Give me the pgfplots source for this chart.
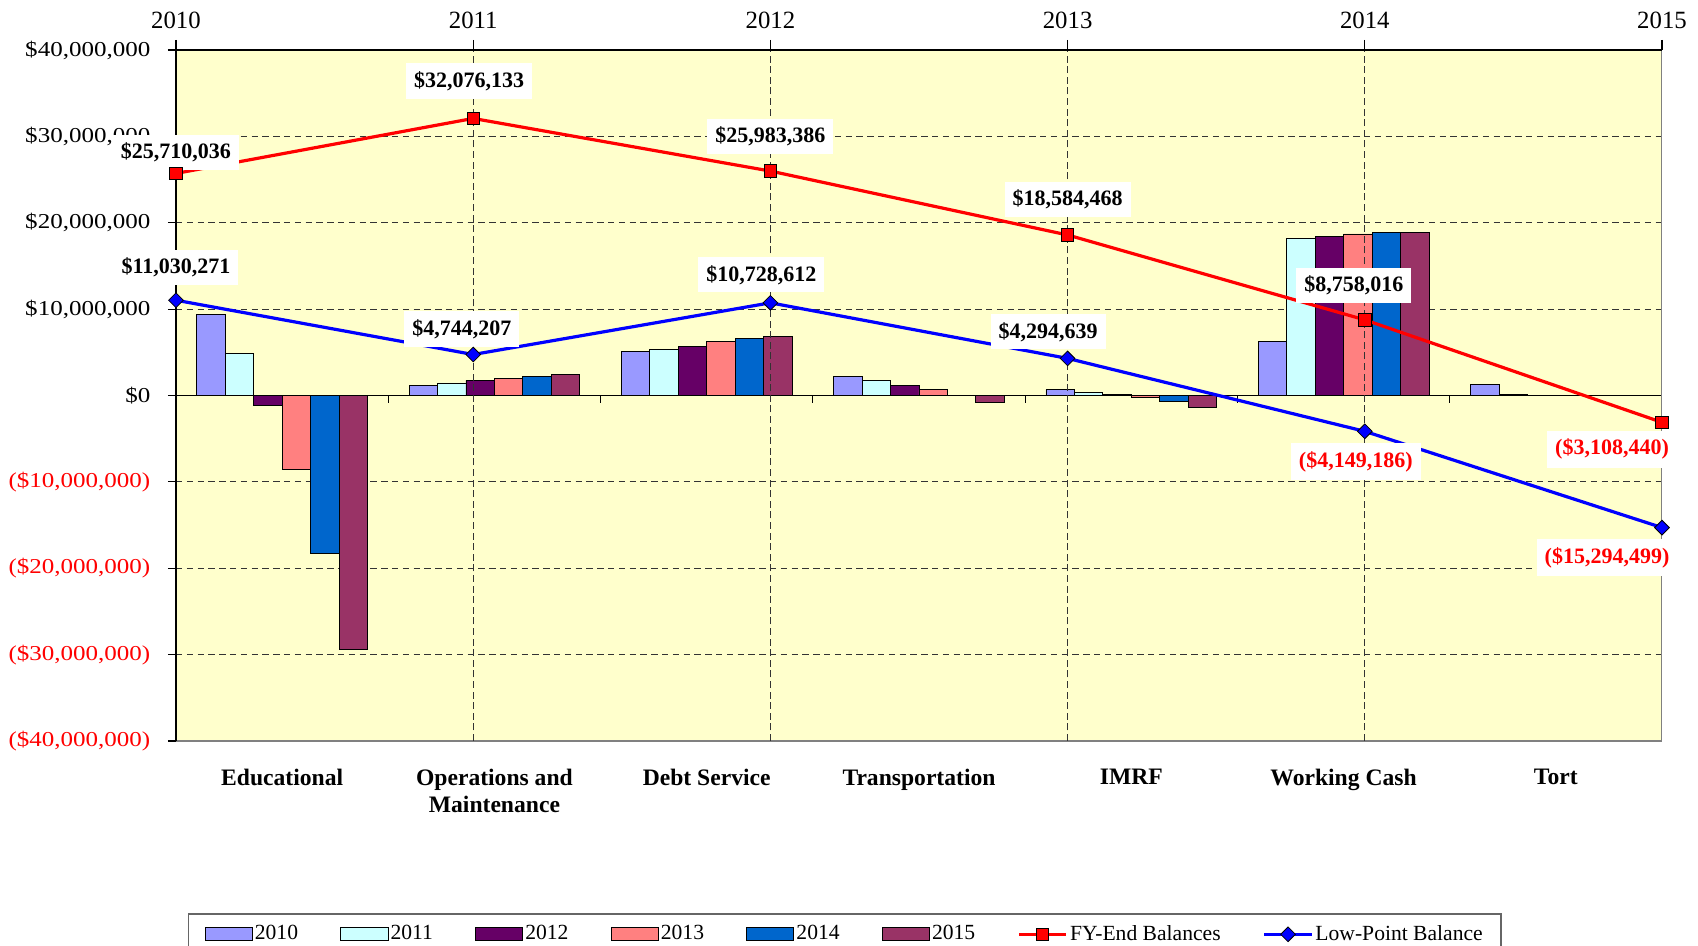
\documentclass[border=0pt]{standalone}
\usepackage{pgfplots}
\pgfplotsset{compat=1.18}
\usepackage{fontspec}
\setmainfont{Liberation Serif}
\newfontfamily\tickfont{Liberation Serif}[FakeStretch=1.18]
\definecolor{bgyellow}{HTML}{FFFFCC}
\definecolor{cA}{HTML}{9999FF}
\definecolor{cB}{HTML}{CCFFFF}
\definecolor{cC}{HTML}{660066}
\definecolor{cD}{HTML}{FF8080}
\definecolor{cE}{HTML}{0066CC}
\definecolor{cF}{HTML}{993366}
\definecolor{gridc}{HTML}{333333}
\begin{document}
\begin{tikzpicture}
\useasboundingbox (-88pt,-102.5pt) rectangle (761pt,370.5pt);
\tikzset{lbl/.style={fill=white, inner xsep=4pt, inner ysep=4pt, font=\bfseries\fontsize{11}{13}\selectfont}}
% ---------- axis 1: bars, categories, y axis ----------
\begin{axis}[
  scale only axis, width=743pt, height=345.5pt,
  at={(0,0)}, anchor=south west,
  xmin=-0.5, xmax=6.5, ymin=-40000000, ymax=40000000,
  axis background/.style={fill=bgyellow},
  axis x line*=bottom, axis y line*=left,
  x axis line style={draw=gray, line width=0.6pt},
  y axis line style={draw=black, line width=0.6pt},
  ybar=0pt, bar width=0.134,
  xtick={0,1,2,3,4,5,6},
  xticklabels={Educational,{Operations and\\Maintenance},Debt Service,Transportation,IMRF,Working Cash,Tort},
  xtick style={draw=none},
  xticklabel style={font=\bfseries\fontsize{11.8}{13.7}\selectfont, align=center, anchor=north, yshift=-6.4pt},
  ytick={-40000000,-30000000,-20000000,-10000000,0,10000000,20000000,30000000,40000000},
  yticklabels={{\color{red}(\$40,000,000)},{\color{red}(\$30,000,000)},{\color{red}(\$20,000,000)},{\color{red}(\$10,000,000)},{\$0},{\$10,000,000},{\$20,000,000},{\$30,000,000},{\$40,000,000}},
  yticklabel style={font=\tickfont\fontsize{10.6}{12}\selectfont, anchor=east, xshift=-5.3pt},
  ytick pos=left, tick align=outside, major tick length=4pt,
  ytick style={black, line width=0.6pt},
  ymajorgrids, grid style={draw=gridc, line width=0.6pt, dash pattern=on 3.2pt off 2.2pt},
  scaled y ticks=false,
]
\addplot[fill=cA, draw=black, line width=0.4pt] coordinates {(0,9380000) (1,1190000) (2,5100000) (3,2170000) (4,690000) (5,6260000) (6,1300000)};
\addplot[fill=cB, draw=black, line width=0.4pt] coordinates {(0,4850000) (1,1450000) (2,5350000) (3,1720000) (4,390000) (5,18160000) (6,100000)};
\addplot[fill=cC, draw=black, line width=0.4pt] coordinates {(0,-1180000) (1,1760000) (2,5680000) (3,1140000) (4,100000) (5,18420000) (6,0)};
\addplot[fill=cD, draw=black, line width=0.4pt] coordinates {(0,-8600000) (1,1990000) (2,6260000) (3,650000) (4,-180000) (5,18700000) (6,0)};
\addplot[fill=cE, draw=black, line width=0.4pt] coordinates {(0,-18250000) (1,2220000) (2,6600000) (3,0) (4,-640000) (5,18840000) (6,0)};
\addplot[fill=cF, draw=black, line width=0.4pt] coordinates {(0,-29400000) (1,2480000) (2,6860000) (3,-760000) (4,-1330000) (5,18840000) (6,0)};
\draw[black, line width=0.6pt] (axis cs:-0.5,0) -- (axis cs:6.5,0);
\pgfplotsinvokeforeach{0.5,1.5,2.5,3.5,4.5,5.5}{\draw[black, line width=0.6pt] (axis cs:#1,0) -- ++(0pt,-4pt);}
\draw[gray, line width=0.6pt] (rel axis cs:1,0) -- (rel axis cs:1,1);
\end{axis}
% ---------- axis 2: years on top, lines ----------
\begin{axis}[
  scale only axis, width=743pt, height=345.5pt,
  at={(0,0)}, anchor=south west,
  xmin=2010, xmax=2015, ymin=-40000000, ymax=40000000,
  axis x line*=top, axis y line=none,
  x axis line style={draw=black, line width=0.6pt},
  xtick={2011,2012,2013,2014}, xticklabels={2011,2012,2013,2014},
  extra x ticks={2010,2015}, extra x tick labels={2010,2015},
  extra x tick style={grid=none},
  xticklabel style={font=\fontsize{12.4}{14}\selectfont, anchor=south, yshift=2pt},
  tick align=outside, major tick length=5pt,
  tick style={black, line width=0.6pt},
  xmajorgrids, grid style={draw=gridc, line width=0.6pt, dash pattern=on 3.5pt off 1.8pt},
  clip=false,
  legend columns=8,
  legend style={at={(0,0)}, anchor=north west, xshift=6pt, yshift=-86.2pt,
    draw=gray!80!black, line width=0.7pt, fill=white,
    font=\fontsize{10.8}{12}\selectfont,
    inner xsep=8pt, inner ysep=4.5pt,
    nodes={inner sep=1.1pt},
    /tikz/every even column/.append style={column sep=20pt}},
]
\pgfplotsset{barleg/.style={legend image code/.code={\draw[##1, line width=0.4pt] (0pt,-3.2pt) rectangle (23.6pt,3.2pt);}},
  lineleg/.style={legend image code/.code={\draw[mark repeat=2, mark phase=2, ##1] plot coordinates {(0pt,0pt) (11.8pt,0pt) (23.6pt,0pt)};}}}
\addlegendimage{barleg, fill=cA, draw=black}\addlegendentry{2010}
\addlegendimage{barleg, fill=cB, draw=black}\addlegendentry{2011}
\addlegendimage{barleg, fill=cC, draw=black}\addlegendentry{2012}
\addlegendimage{barleg, fill=cD, draw=black}\addlegendentry{2013}
\addlegendimage{barleg, fill=cE, draw=black}\addlegendentry{2014}
\addlegendimage{barleg, fill=cF, draw=black}\addlegendentry{2015}
\addplot[red, line width=1.6pt, mark=square*, mark size=3.1pt, mark options={fill=red, draw=black, line width=0.4pt}, lineleg]
  coordinates {(2010,25710036) (2011,32076133) (2012,25983386) (2013,18584468) (2014,8758016) (2015,-3108440)};
\addlegendentry{FY-End Balances}
\addplot[blue, line width=1.6pt, mark=square*, mark size=2.6pt, mark options={rotate=45, fill=blue, draw=black, line width=0.4pt}, lineleg]
  coordinates {(2010,11030271) (2011,4744207) (2012,10728612) (2013,4294639) (2014,-4149186) (2015,-15294499)};
\addlegendentry{Low-Point Balance}
\node[lbl, yshift=10.5pt] at (axis cs:2010,25710036) {\$25,710,036};
\node[lbl, xshift=-2pt, yshift=18.7pt] at (axis cs:2011,32076133) {\$32,076,133};
\node[lbl, yshift=17.3pt] at (axis cs:2012,25983386) {\$25,983,386};
\node[lbl, yshift=17.7pt] at (axis cs:2013,18584468) {\$18,584,468};
\node[lbl, xshift=-5.5pt, yshift=17.2pt] at (axis cs:2014,8758016) {\$8,758,016};
\node[lbl, text=red, xshift=-25pt, yshift=-13.5pt] at (axis cs:2015,-3108440) {(\$3,108,440)};
\node[lbl, yshift=16.5pt] at (axis cs:2010,11030271) {\$11,030,271};
\node[lbl, xshift=-5.7pt, yshift=12.8pt] at (axis cs:2011,4744207) {\$4,744,207};
\node[lbl, xshift=-4.5pt, yshift=14pt] at (axis cs:2012,10728612) {\$10,728,612};
\node[lbl, xshift=-9.8pt, yshift=13.3pt] at (axis cs:2013,4294639) {\$4,294,639};
\node[lbl, text=red, xshift=-4.5pt, yshift=-15.2pt] at (axis cs:2014,-4149186) {(\$4,149,186)};
\node[lbl, text=red, xshift=-27.5pt, yshift=-15pt] at (axis cs:2015,-15294499) {(\$15,294,499)};
\end{axis}
\end{tikzpicture}
\end{document}
